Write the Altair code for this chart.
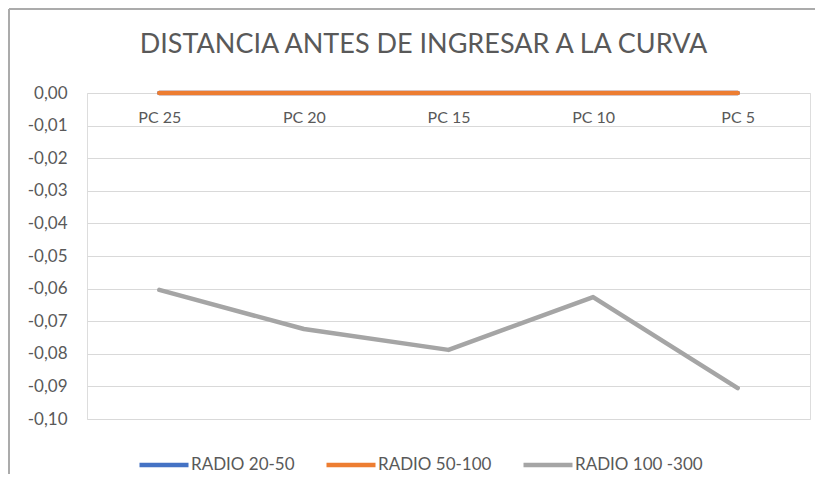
import altair as alt
import pandas as pd

categories = ["PC 25", "PC 20", "PC 15", "PC 10", "PC 5"]
series_names = ["RADIO 20-50", "RADIO 50-100", "RADIO 100 -300"]
radio_20_50 = [0.0, 0.0, 0.0, 0.0, 0.0]
radio_50_100 = [0.0, 0.0, 0.0, 0.0, 0.0]
radio_100_300 = [-0.0604, -0.0724, -0.0788, -0.0626, -0.0905]
y_ticks = [0.0, -0.01, -0.02, -0.03, -0.04, -0.05, -0.06, -0.07, -0.08, -0.09, -0.10]
colors = ["#4472C4", "#ED7D31", "#A5A5A5"]

rows = []
for s_idx, (name, vals) in enumerate(zip(series_names, [radio_20_50, radio_50_100, radio_100_300])):
    for c_idx, (cat, v) in enumerate(zip(categories, vals)):
        rows.append({"serie": name, "punto": cat, "valor": v, "orden": s_idx, "idx": c_idx})
df = pd.DataFrame(rows)

FONT = "Lato"
TXT = "#595959"
W, H = 723, 326

lines = alt.Chart(df).mark_line(strokeWidth=4.5, strokeCap="round", strokeJoin="round").encode(
    x=alt.X("punto:N", sort=categories, title=None,
            scale=alt.Scale(paddingOuter=0.5, paddingInner=0),
            axis=alt.Axis(orient="bottom", offset=-H, domain=False, ticks=False, grid=False,
                          labelAngle=0, labelPadding=16, labelFont=FONT, labelFontSize=16,
                          labelColor=TXT)),
    y=alt.Y("valor:Q", title=None,
            scale=alt.Scale(domain=[-0.10, 0.0], nice=False, zero=False),
            axis=alt.Axis(values=y_ticks, domain=False, ticks=False, grid=True,
                          gridColor="#D9D9D9", gridWidth=1, labelPadding=20,
                          labelFont=FONT, labelFontSize=17, labelColor=TXT,
                          labelExpr="(datum.value < -0.00001 ? '-' : '') + replace(format(abs(datum.value), '.2f'), '.', ',')")),
    color=alt.Color("serie:N", sort=series_names,
                    scale=alt.Scale(domain=series_names, range=colors),
                    legend=alt.Legend(title=None, orient="none", direction="horizontal",
                                      legendX=50, legendY=345, symbolType="stroke",
                                      symbolStrokeWidth=4.5, symbolSize=2401,
                                      labelFont=FONT, labelFontSize=17, labelColor=TXT,
                                      labelOffset=0, columnPadding=22)),
    order=alt.Order("orden:Q"),
    detail="serie:N",
)

border_data = alt.Data(values=[{}])
top_edge = alt.Chart(border_data).mark_rule(stroke="#ABABAB", strokeWidth=2).encode(
    x=alt.value(-78), x2=alt.value(W + 5), y=alt.value(-84))
left_edge = alt.Chart(border_data).mark_rule(stroke="#ABABAB", strokeWidth=2).encode(
    x=alt.value(-78), y=alt.value(-84), y2=alt.value(H + 55))

chart = alt.layer(top_edge, left_edge, lines).properties(
    width=W, height=H,
    title=alt.TitleParams("DISTANCIA ANTES DE INGRESAR A LA CURVA", font=FONT, fontSize=27,
                          fontWeight="normal", color=TXT, anchor="middle", dx=-25, dy=94,
                          baseline="alphabetic", offset=22),
    autosize=alt.AutoSizeParams(type="none"),
    padding={"left": 79, "top": 85, "right": 5, "bottom": 55},
).configure_view(stroke=None).configure(background="white")

chart.save("out.html", embed_options={"renderer": "svg", "actions": False})
